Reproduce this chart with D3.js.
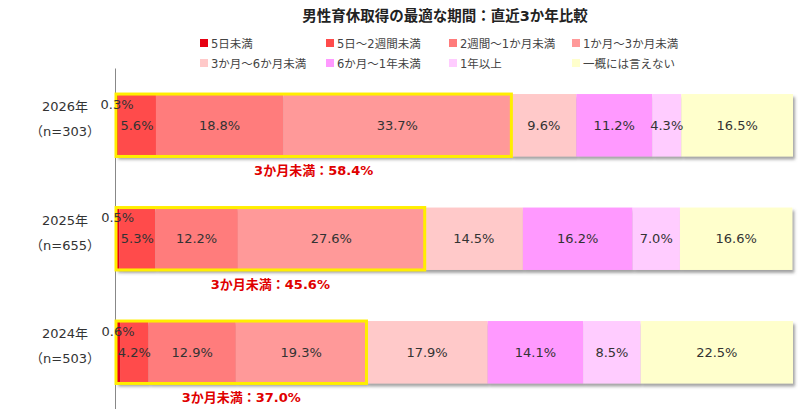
<!DOCTYPE html>
<html>
<head>
<meta charset="utf-8">
<script src="https://cdn.jsdelivr.net/npm/d3@7"></script>
<style>
  body { margin: 0; background: #fff; }
  .chart text { font-family: "DejaVu Sans", "Noto Sans CJK JP", sans-serif; }
</style>
</head>
<body>
<div class="chart"></div>
<script>
// データ
const years = ['2026年', '2025年', '2024年']
const samples = ['（n=303）', '（n=655）', '（n=503）']
const periods = ['5日未満', '5日～2週間未満', '2週間～1か月未満', '1か月～3か月未満',
                 '3か月～6か月未満', '6か月～1年未満', '1年以上', '一概には言えない']
const v2026 = [0.3, 5.6, 18.8, 33.7, 9.6, 11.2, 4.3, 16.5]
const v2025 = [0.5, 5.3, 12.2, 27.6, 14.5, 16.2, 7.0, 16.6]
const v2024 = [0.6, 4.2, 12.9, 19.3, 17.9, 14.1, 8.5, 22.5]
const colors = ['#e60012', '#ff4b4b', '#ff7b7b', '#ff9999', '#ffc9c9', '#ff99ff', '#ffccff', '#ffffcc']

const values = [v2026, v2025, v2024]
const highlightCount = 4  // 3か月未満 = 最初の4区分

const width = 800, height = 419

const svg = d3.select('.chart').append('svg')
  .attr('width', width).attr('height', height)

// 影
const defs = svg.append('defs')
defs.append('filter').attr('id', 'shadow')
  .attr('x', '-5%').attr('y', '-20%').attr('width', '110%').attr('height', '150%')
  .append('feDropShadow')
  .attr('dx', 2).attr('dy', 3).attr('stdDeviation', 1.5)
  .attr('flood-color', '#555').attr('flood-opacity', 0.55)

const xScale = d3.scaleLinear().domain([0, 100]).range([116, 793])
const yScale = d3.scaleBand().domain(years).range([68.5, 409])
  .paddingInner(0.45).paddingOuter(0.225)

// タイトル
svg.append('text')
  .attr('x', 445).attr('y', 21)
  .attr('text-anchor', 'middle')
  .style('font-size', '14.5px').style('font-weight', 'bold').style('fill', '#222')
  .text('男性育休取得の最適な期間：直近3か年比較')

// 凡例
const legendX = [200, 326, 449, 572]
const legend = svg.append('g').selectAll('g')
  .data(periods).join('g')
  .attr('transform', (d, i) => `translate(${legendX[i % 4]},${i < 4 ? 44 : 64})`)
legend.append('rect')
  .attr('x', 0).attr('y', -5).attr('width', 8).attr('height', 8)
  .attr('fill', (d, i) => colors[i])
legend.append('text')
  .attr('x', 11).attr('y', 0).attr('dy', '0.35em')
  .style('font-size', '11.5px').style('fill', '#444')
  .text(d => d)

// 縦軸線
svg.append('line')
  .attr('x1', 115.5).attr('x2', 115.5)
  .attr('y1', yScale.range()[0]).attr('y2', yScale.range()[1])
  .attr('stroke', '#888').attr('stroke-width', 1)

// カテゴリラベル
const cat = svg.append('g').selectAll('g').data(years).join('g')
  .attr('transform', d => `translate(65,${yScale(d) + yScale.bandwidth() / 2})`)
cat.append('text')
  .attr('y', -14).attr('text-anchor', 'middle')
  .style('font-size', '13px').style('fill', '#333')
  .text(d => d)
cat.append('text')
  .attr('y', 11).attr('text-anchor', 'middle')
  .style('font-size', '13px').style('fill', '#333')
  .text((d, i) => samples[i])

// 横棒
years.forEach((year, r) => {
  let acc = 0
  const segs = values[r].map((v, i) => {
    const s = { key: periods[i], value: v, start: acc, idx: i }
    acc += v
    return s
  })
  const y0 = yScale(year), bh = yScale.bandwidth()
  const row = svg.append('g')

  row.append('g').attr('filter', 'url(#shadow)')
    .selectAll('rect').data(segs).join('rect')
    .attr('x', d => xScale(d.start))
    .attr('y', y0)
    .attr('width', d => xScale(d.start + d.value) - xScale(d.start))
    .attr('height', bh)
    .attr('fill', d => colors[d.idx])

  // 3か月未満の枠
  const hiEnd = d3.sum(values[r].slice(0, highlightCount))
  row.append('rect')
    .attr('x', xScale(0)).attr('y', y0)
    .attr('width', xScale(hiEnd) - xScale(0)).attr('height', bh)
    .attr('fill', 'none').attr('stroke', '#ffee00').attr('stroke-width', 3)

  row.selectAll('text.val').data(segs).join('text')
    .attr('class', 'val')
    .attr('x', d => xScale(d.start + d.value / 2))
    .attr('y', d => y0 + bh / 2 + (d.value < 1 ? -21 : 0))
    .attr('dy', '0.35em')
    .attr('text-anchor', 'middle')
    .style('font-size', '13px').style('fill', '#333')
    .text(d => d.value.toFixed(1) + '%')

  row.append('text')
    .attr('x', (xScale(0) + xScale(hiEnd)) / 2)
    .attr('y', y0 + bh + 14).attr('dy', '0.35em')
    .attr('text-anchor', 'middle')
    .style('font-size', '13px').style('font-weight', 'bold').style('fill', '#e00000')
    .text('3か月未満：' + hiEnd.toFixed(1) + '%')
})
</script>
</body>
</html>
